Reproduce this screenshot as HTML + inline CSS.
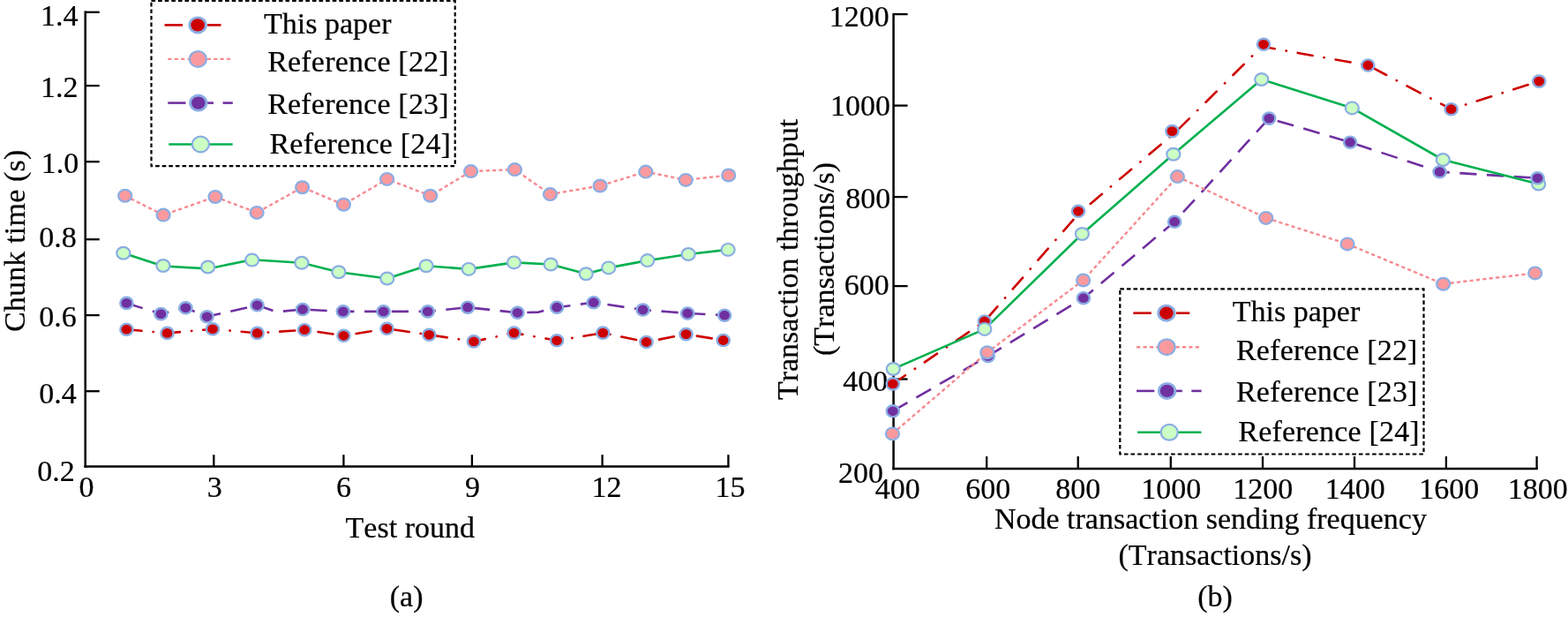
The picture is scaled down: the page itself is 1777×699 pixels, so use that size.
<!DOCTYPE html>
<html lang="en"><head><meta charset="utf-8"><title>Figure</title>
<style>
html,body{margin:0;padding:0;background:#fff;}
body{width:1777px;height:699px;overflow:hidden;}
svg{display:block;}
svg text{stroke:#000;stroke-width:0.22px;font-kerning:none;font-family:"Liberation Serif",serif;font-size:34px;fill:#000;}
</style></head><body>
<svg width="1777" height="699" viewBox="0 0 1777 699">
<rect width="1777" height="699" fill="#fff"/>
<line x1="96.70" y1="12.60" x2="96.70" y2="529.75" stroke="#000" stroke-width="2.5"/>
<line x1="95.45" y1="528.50" x2="826.60" y2="528.50" stroke="#000" stroke-width="2.5"/>
<line x1="96.70" y1="13.80" x2="112.70" y2="13.80" stroke="#000" stroke-width="2.3"/>
<line x1="96.70" y1="97.10" x2="112.70" y2="97.10" stroke="#000" stroke-width="2.3"/>
<line x1="96.70" y1="183.20" x2="112.70" y2="183.20" stroke="#000" stroke-width="2.3"/>
<line x1="96.70" y1="271.20" x2="112.70" y2="271.20" stroke="#000" stroke-width="2.3"/>
<line x1="96.70" y1="357.10" x2="112.70" y2="357.10" stroke="#000" stroke-width="2.3"/>
<line x1="96.70" y1="443.20" x2="112.70" y2="443.20" stroke="#000" stroke-width="2.3"/>
<line x1="242.30" y1="528.50" x2="242.30" y2="515.20" stroke="#000" stroke-width="2.3"/>
<line x1="389.40" y1="528.50" x2="389.40" y2="515.20" stroke="#000" stroke-width="2.3"/>
<line x1="534.90" y1="528.50" x2="534.90" y2="515.20" stroke="#000" stroke-width="2.3"/>
<line x1="682.60" y1="528.50" x2="682.60" y2="515.20" stroke="#000" stroke-width="2.3"/>
<line x1="825.40" y1="528.50" x2="825.40" y2="515.20" stroke="#000" stroke-width="2.3"/>
<text x="46.00" y="28.70">1.4</text>
<text x="46.00" y="109.70">1.2</text>
<text x="46.80" y="196.20">1.0</text>
<text x="44.30" y="280.40">0.8</text>
<text x="44.30" y="370.40">0.6</text>
<text x="44.30" y="457.30">0.4</text>
<text x="42.30" y="545.20">0.2</text>
<text x="89.60" y="563.00">0</text>
<text x="234.65" y="563.00">3</text>
<text x="380.95" y="563.00">6</text>
<text x="526.95" y="563.00">9</text>
<text x="670.45" y="563.00">12</text>
<text x="810.55" y="563.00">15</text>
<text x="391.60" y="609.30">Test round</text>
<text x="441.80" y="686.60">(a)</text>
<text transform="translate(28.20,376.10) rotate(-90)" letter-spacing="0.19">Chunk time (s)</text>
<polyline points="141.7,221.8 185.1,243.6 244.0,223.0 291.1,240.9 342.6,212.2 389.4,231.8 438.6,202.9 487.7,221.8 533.6,194.1 583.4,192.1 623.5,220.1 680.1,210.5 731.8,194.6 777.2,203.9 825.7,198.5" fill="none" stroke="#F78A90" stroke-width="2.4" stroke-linejoin="round" stroke-linecap="butt" stroke-dasharray="4.2 3.2" stroke-dashoffset="0"/>
<ellipse cx="141.7" cy="221.8" rx="7.5" ry="6.9" fill="#FA9A9E" stroke="#8AADE3" stroke-width="2.2"/>
<ellipse cx="185.1" cy="243.6" rx="7.5" ry="6.9" fill="#FA9A9E" stroke="#8AADE3" stroke-width="2.2"/>
<ellipse cx="244.0" cy="223.0" rx="7.5" ry="6.9" fill="#FA9A9E" stroke="#8AADE3" stroke-width="2.2"/>
<ellipse cx="291.1" cy="240.9" rx="7.5" ry="6.9" fill="#FA9A9E" stroke="#8AADE3" stroke-width="2.2"/>
<ellipse cx="342.6" cy="212.2" rx="7.5" ry="6.9" fill="#FA9A9E" stroke="#8AADE3" stroke-width="2.2"/>
<ellipse cx="389.4" cy="231.8" rx="7.5" ry="6.9" fill="#FA9A9E" stroke="#8AADE3" stroke-width="2.2"/>
<ellipse cx="438.6" cy="202.9" rx="7.5" ry="6.9" fill="#FA9A9E" stroke="#8AADE3" stroke-width="2.2"/>
<ellipse cx="487.7" cy="221.8" rx="7.5" ry="6.9" fill="#FA9A9E" stroke="#8AADE3" stroke-width="2.2"/>
<ellipse cx="533.6" cy="194.1" rx="7.5" ry="6.9" fill="#FA9A9E" stroke="#8AADE3" stroke-width="2.2"/>
<ellipse cx="583.4" cy="192.1" rx="7.5" ry="6.9" fill="#FA9A9E" stroke="#8AADE3" stroke-width="2.2"/>
<ellipse cx="623.5" cy="220.1" rx="7.5" ry="6.9" fill="#FA9A9E" stroke="#8AADE3" stroke-width="2.2"/>
<ellipse cx="680.1" cy="210.5" rx="7.5" ry="6.9" fill="#FA9A9E" stroke="#8AADE3" stroke-width="2.2"/>
<ellipse cx="731.8" cy="194.6" rx="7.5" ry="6.9" fill="#FA9A9E" stroke="#8AADE3" stroke-width="2.2"/>
<ellipse cx="777.2" cy="203.9" rx="7.5" ry="6.9" fill="#FA9A9E" stroke="#8AADE3" stroke-width="2.2"/>
<ellipse cx="825.7" cy="198.5" rx="7.5" ry="6.9" fill="#FA9A9E" stroke="#8AADE3" stroke-width="2.2"/>
<polyline points="139.8,286.8 184.9,301.5 235.8,304.4 285.7,294.2 341.9,297.8 383.9,308.2 438.8,315.5 483.1,301.3 531.2,304.9 582.5,297.4 624.2,299.5 664.2,310.3 689.7,303.4 733.8,295.1 780.1,288.0 825.1,282.9" fill="none" stroke="#00B050" stroke-width="2.6" stroke-linejoin="round" stroke-linecap="butt"/>
<ellipse cx="139.8" cy="286.8" rx="7.5" ry="6.9" fill="#CCFFC4" stroke="#8AADE3" stroke-width="2.2"/>
<ellipse cx="184.9" cy="301.0" rx="7.5" ry="6.9" fill="#CCFFC4" stroke="#8AADE3" stroke-width="2.2"/>
<ellipse cx="235.6" cy="302.5" rx="7.5" ry="6.9" fill="#CCFFC4" stroke="#8AADE3" stroke-width="2.2"/>
<ellipse cx="285.7" cy="294.6" rx="7.5" ry="6.9" fill="#CCFFC4" stroke="#8AADE3" stroke-width="2.2"/>
<ellipse cx="341.9" cy="297.8" rx="7.5" ry="6.9" fill="#CCFFC4" stroke="#8AADE3" stroke-width="2.2"/>
<ellipse cx="383.9" cy="308.2" rx="7.5" ry="6.9" fill="#CCFFC4" stroke="#8AADE3" stroke-width="2.2"/>
<ellipse cx="438.8" cy="315.5" rx="7.5" ry="6.9" fill="#CCFFC4" stroke="#8AADE3" stroke-width="2.2"/>
<ellipse cx="483.1" cy="301.3" rx="7.5" ry="6.9" fill="#CCFFC4" stroke="#8AADE3" stroke-width="2.2"/>
<ellipse cx="531.2" cy="304.9" rx="7.5" ry="6.9" fill="#CCFFC4" stroke="#8AADE3" stroke-width="2.2"/>
<ellipse cx="582.5" cy="297.4" rx="7.5" ry="6.9" fill="#CCFFC4" stroke="#8AADE3" stroke-width="2.2"/>
<ellipse cx="624.2" cy="299.5" rx="7.5" ry="6.9" fill="#CCFFC4" stroke="#8AADE3" stroke-width="2.2"/>
<ellipse cx="664.2" cy="310.3" rx="7.5" ry="6.9" fill="#CCFFC4" stroke="#8AADE3" stroke-width="2.2"/>
<ellipse cx="689.7" cy="303.4" rx="7.5" ry="6.9" fill="#CCFFC4" stroke="#8AADE3" stroke-width="2.2"/>
<ellipse cx="733.8" cy="295.1" rx="7.5" ry="6.9" fill="#CCFFC4" stroke="#8AADE3" stroke-width="2.2"/>
<ellipse cx="780.1" cy="288.0" rx="7.5" ry="6.9" fill="#CCFFC4" stroke="#8AADE3" stroke-width="2.2"/>
<ellipse cx="825.1" cy="282.9" rx="7.5" ry="6.9" fill="#CCFFC4" stroke="#8AADE3" stroke-width="2.2"/>
<polyline points="143.4,343.4 182.4,355.6 210.4,348.8 234.6,358.8 291.5,345.8 313.6,353.3 343.0,350.5 388.8,352.9 434.6,352.9 484.8,352.9 530.0,348.2 586.5,354.3 610.4,353.6 631.1,348.2 672.7,342.7 728.6,351.0 779.2,355.0 821.1,357.2" fill="none" stroke="#7030A0" stroke-width="2.6" stroke-linejoin="round" stroke-linecap="butt" stroke-dasharray="19.2 11.6" stroke-dashoffset="0"/>
<ellipse cx="143.4" cy="343.4" rx="7.1" ry="6.6" fill="#7030A0" stroke="#8AADE3" stroke-width="2.4"/>
<ellipse cx="182.4" cy="355.6" rx="7.1" ry="6.6" fill="#7030A0" stroke="#8AADE3" stroke-width="2.4"/>
<ellipse cx="210.4" cy="348.8" rx="7.1" ry="6.6" fill="#7030A0" stroke="#8AADE3" stroke-width="2.4"/>
<ellipse cx="234.6" cy="358.8" rx="7.1" ry="6.6" fill="#7030A0" stroke="#8AADE3" stroke-width="2.4"/>
<ellipse cx="291.5" cy="345.8" rx="7.1" ry="6.6" fill="#7030A0" stroke="#8AADE3" stroke-width="2.4"/>
<ellipse cx="343.0" cy="350.5" rx="7.1" ry="6.6" fill="#7030A0" stroke="#8AADE3" stroke-width="2.4"/>
<ellipse cx="388.8" cy="352.9" rx="7.1" ry="6.6" fill="#7030A0" stroke="#8AADE3" stroke-width="2.4"/>
<ellipse cx="434.6" cy="352.9" rx="7.1" ry="6.6" fill="#7030A0" stroke="#8AADE3" stroke-width="2.4"/>
<ellipse cx="484.8" cy="352.9" rx="7.1" ry="6.6" fill="#7030A0" stroke="#8AADE3" stroke-width="2.4"/>
<ellipse cx="530.0" cy="348.2" rx="7.1" ry="6.6" fill="#7030A0" stroke="#8AADE3" stroke-width="2.4"/>
<ellipse cx="586.5" cy="354.3" rx="7.1" ry="6.6" fill="#7030A0" stroke="#8AADE3" stroke-width="2.4"/>
<ellipse cx="631.1" cy="348.2" rx="7.1" ry="6.6" fill="#7030A0" stroke="#8AADE3" stroke-width="2.4"/>
<ellipse cx="672.7" cy="342.7" rx="7.1" ry="6.6" fill="#7030A0" stroke="#8AADE3" stroke-width="2.4"/>
<ellipse cx="728.6" cy="351.0" rx="7.1" ry="6.6" fill="#7030A0" stroke="#8AADE3" stroke-width="2.4"/>
<ellipse cx="779.2" cy="355.0" rx="7.1" ry="6.6" fill="#7030A0" stroke="#8AADE3" stroke-width="2.4"/>
<ellipse cx="821.1" cy="357.2" rx="7.1" ry="6.6" fill="#7030A0" stroke="#8AADE3" stroke-width="2.4"/>
<polyline points="143.4,373.2 189.5,377.4 241.0,372.8 291.6,377.4 345.1,373.7 389.5,380.3 438.5,372.3 486.3,379.3 536.9,386.9 582.5,377.1 631.1,385.8 683.3,377.1 732.5,387.5 777.5,378.6 819.7,385.5" fill="none" stroke="#CC0000" stroke-width="2.6" stroke-linejoin="round" stroke-linecap="round" stroke-dasharray="17.2 13.0 0.4 13.0" stroke-dashoffset="0"/>
<ellipse cx="143.4" cy="373.2" rx="7.1" ry="6.6" fill="#CC0000" stroke="#8AADE3" stroke-width="2.4"/>
<ellipse cx="189.5" cy="377.4" rx="7.1" ry="6.6" fill="#CC0000" stroke="#8AADE3" stroke-width="2.4"/>
<ellipse cx="241.0" cy="372.8" rx="7.1" ry="6.6" fill="#CC0000" stroke="#8AADE3" stroke-width="2.4"/>
<ellipse cx="291.6" cy="377.4" rx="7.1" ry="6.6" fill="#CC0000" stroke="#8AADE3" stroke-width="2.4"/>
<ellipse cx="345.1" cy="373.7" rx="7.1" ry="6.6" fill="#CC0000" stroke="#8AADE3" stroke-width="2.4"/>
<ellipse cx="389.5" cy="380.3" rx="7.1" ry="6.6" fill="#CC0000" stroke="#8AADE3" stroke-width="2.4"/>
<ellipse cx="438.5" cy="372.3" rx="7.1" ry="6.6" fill="#CC0000" stroke="#8AADE3" stroke-width="2.4"/>
<ellipse cx="486.3" cy="379.3" rx="7.1" ry="6.6" fill="#CC0000" stroke="#8AADE3" stroke-width="2.4"/>
<ellipse cx="536.9" cy="386.9" rx="7.1" ry="6.6" fill="#CC0000" stroke="#8AADE3" stroke-width="2.4"/>
<ellipse cx="582.5" cy="377.1" rx="7.1" ry="6.6" fill="#CC0000" stroke="#8AADE3" stroke-width="2.4"/>
<ellipse cx="631.1" cy="385.8" rx="7.1" ry="6.6" fill="#CC0000" stroke="#8AADE3" stroke-width="2.4"/>
<ellipse cx="683.3" cy="377.1" rx="7.1" ry="6.6" fill="#CC0000" stroke="#8AADE3" stroke-width="2.4"/>
<ellipse cx="732.5" cy="387.5" rx="7.1" ry="6.6" fill="#CC0000" stroke="#8AADE3" stroke-width="2.4"/>
<ellipse cx="777.5" cy="378.6" rx="7.1" ry="6.6" fill="#CC0000" stroke="#8AADE3" stroke-width="2.4"/>
<ellipse cx="819.7" cy="385.5" rx="7.1" ry="6.6" fill="#CC0000" stroke="#8AADE3" stroke-width="2.4"/>
<rect x="171.5" y="1.0" width="344.2" height="187.2" fill="#fff" stroke="#000" stroke-width="2.2" stroke-dasharray="4.6 3"/>
<line x1="186.50" y1="28.40" x2="207.00" y2="28.40" stroke="#CC0000" stroke-width="2.6"/>
<line x1="235.00" y1="28.40" x2="250.50" y2="28.40" stroke="#CC0000" stroke-width="2.6"/>
<ellipse cx="224.1" cy="28.4" rx="9.2" ry="8.6" fill="#CC0000" stroke="#8AADE3" stroke-width="2.8"/>
<text x="299.00" y="37.60">This paper</text>
<polyline points="190.3,66.9 263.8,66.9" fill="none" stroke="#F78A90" stroke-width="2.4" stroke-linejoin="round" stroke-linecap="butt" stroke-dasharray="4.2 3.2" stroke-dashoffset="0"/>
<ellipse cx="224.4" cy="66.9" rx="9.5" ry="8.9" fill="#FA9A9E" stroke="#8AADE3" stroke-width="2.2"/>
<text x="303.20" y="81.30" letter-spacing="0.19">Reference [22]</text>
<line x1="190.30" y1="116.60" x2="210.50" y2="116.60" stroke="#7030A0" stroke-width="2.6"/>
<line x1="233.50" y1="116.60" x2="242.00" y2="116.60" stroke="#7030A0" stroke-width="2.6"/>
<line x1="252.50" y1="116.60" x2="263.80" y2="116.60" stroke="#7030A0" stroke-width="2.6"/>
<ellipse cx="224.8" cy="116.6" rx="9.2" ry="8.6" fill="#7030A0" stroke="#8AADE3" stroke-width="2.8"/>
<text x="303.20" y="128.70" letter-spacing="0.19">Reference [23]</text>
<line x1="191.30" y1="163.50" x2="263.70" y2="163.50" stroke="#00B050" stroke-width="2.6"/>
<ellipse cx="227.4" cy="163.5" rx="9.5" ry="8.9" fill="#CCFFC4" stroke="#8AADE3" stroke-width="2.2"/>
<text x="305.50" y="174.00" letter-spacing="0.19">Reference [24]</text>
<line x1="1012.60" y1="14.90" x2="1012.60" y2="532.25" stroke="#000" stroke-width="2.5"/>
<line x1="1011.35" y1="531.00" x2="1742.80" y2="531.00" stroke="#000" stroke-width="2.5"/>
<line x1="1012.60" y1="16.10" x2="1028.60" y2="16.10" stroke="#000" stroke-width="2.3"/>
<line x1="1012.60" y1="119.60" x2="1028.60" y2="119.60" stroke="#000" stroke-width="2.3"/>
<line x1="1012.60" y1="223.10" x2="1028.60" y2="223.10" stroke="#000" stroke-width="2.3"/>
<line x1="1012.60" y1="324.10" x2="1028.60" y2="324.10" stroke="#000" stroke-width="2.3"/>
<line x1="1012.60" y1="429.50" x2="1028.60" y2="429.50" stroke="#000" stroke-width="2.3"/>
<line x1="1118.20" y1="531.00" x2="1118.20" y2="517.00" stroke="#000" stroke-width="2.3"/>
<line x1="1221.70" y1="531.00" x2="1221.70" y2="517.00" stroke="#000" stroke-width="2.3"/>
<line x1="1326.80" y1="531.00" x2="1326.80" y2="517.00" stroke="#000" stroke-width="2.3"/>
<line x1="1431.00" y1="531.00" x2="1431.00" y2="517.00" stroke="#000" stroke-width="2.3"/>
<line x1="1535.00" y1="531.00" x2="1535.00" y2="517.00" stroke="#000" stroke-width="2.3"/>
<line x1="1638.90" y1="531.00" x2="1638.90" y2="517.00" stroke="#000" stroke-width="2.3"/>
<line x1="1741.60" y1="531.00" x2="1741.60" y2="517.00" stroke="#000" stroke-width="2.3"/>
<text x="939.70" y="30.00">1200</text>
<text x="940.90" y="131.20">1000</text>
<text x="958.30" y="236.30">800</text>
<text x="956.80" y="334.00">600</text>
<text x="955.30" y="442.50">400</text>
<text x="949.90" y="547.20">200</text>
<text x="991.80" y="565.30">400</text>
<text x="1094.30" y="565.30">600</text>
<text x="1196.20" y="565.30">800</text>
<text x="1293.15" y="565.30">1000</text>
<text x="1397.35" y="565.30">1200</text>
<text x="1501.75" y="565.30">1400</text>
<text x="1608.15" y="565.30">1600</text>
<text x="1708.65" y="565.30">1800</text>
<text x="1126.90" y="598.50">Node transaction sending frequency</text>
<text x="1267.50" y="639.70">(Transactions/s)</text>
<text x="1357.20" y="686.60">(b)</text>
<text transform="translate(904.20,453.10) rotate(-90)">Transaction throughput</text>
<text transform="translate(944.50,403.00) rotate(-90)">(Transactions/s)</text>
<polyline points="1011.8,434.9 1115.8,364.0 1222.5,242.0 1332.0,150.0 1430.0,52.7 1550.3,74.0 1644.6,123.7 1744.2,92.1" fill="none" stroke="#CC0000" stroke-width="2.6" stroke-linejoin="round" stroke-linecap="round" stroke-dasharray="17.2 13.0 0.4 13.0" stroke-dashoffset="0"/>
<polyline points="1011.8,465.8 1119.7,403.4 1227.9,337.7 1331.1,251.2 1438.2,134.1 1530.1,161.2 1631.6,194.7 1742.5,201.8" fill="none" stroke="#7030A0" stroke-width="2.6" stroke-linejoin="round" stroke-linecap="butt" stroke-dasharray="19.2 11.6" stroke-dashoffset="0"/>
<polyline points="1011.4,491.4 1118.8,399.3 1227.6,317.5 1334.4,200.1 1434.7,246.9 1527.0,276.4 1635.6,321.7 1739.7,309.4" fill="none" stroke="#F78A90" stroke-width="2.4" stroke-linejoin="round" stroke-linecap="butt" stroke-dasharray="4.2 3.2" stroke-dashoffset="0"/>
<polyline points="1012.3,418.0 1115.8,372.9 1226.4,265.0 1329.8,174.8 1429.7,90.0 1532.3,122.4 1635.3,181.0 1743.7,208.5" fill="none" stroke="#00B050" stroke-width="2.6" stroke-linejoin="round" stroke-linecap="butt"/>
<ellipse cx="1011.8" cy="434.9" rx="7.1" ry="6.6" fill="#CC0000" stroke="#8AADE3" stroke-width="2.4"/>
<ellipse cx="1115.8" cy="364.0" rx="7.1" ry="6.6" fill="#CC0000" stroke="#8AADE3" stroke-width="2.4"/>
<ellipse cx="1222.0" cy="239.3" rx="7.1" ry="6.6" fill="#CC0000" stroke="#8AADE3" stroke-width="2.4"/>
<ellipse cx="1328.4" cy="148.6" rx="7.1" ry="6.6" fill="#CC0000" stroke="#8AADE3" stroke-width="2.4"/>
<ellipse cx="1432.0" cy="50.3" rx="7.1" ry="6.6" fill="#CC0000" stroke="#8AADE3" stroke-width="2.4"/>
<ellipse cx="1550.3" cy="74.0" rx="7.1" ry="6.6" fill="#CC0000" stroke="#8AADE3" stroke-width="2.4"/>
<ellipse cx="1644.6" cy="123.7" rx="7.1" ry="6.6" fill="#CC0000" stroke="#8AADE3" stroke-width="2.4"/>
<ellipse cx="1744.2" cy="92.1" rx="7.1" ry="6.6" fill="#CC0000" stroke="#8AADE3" stroke-width="2.4"/>
<ellipse cx="1012.3" cy="418.0" rx="7.5" ry="6.9" fill="#CCFFC4" stroke="#8AADE3" stroke-width="2.2"/>
<ellipse cx="1115.8" cy="372.9" rx="7.5" ry="6.9" fill="#CCFFC4" stroke="#8AADE3" stroke-width="2.2"/>
<ellipse cx="1226.4" cy="265.0" rx="7.5" ry="6.9" fill="#CCFFC4" stroke="#8AADE3" stroke-width="2.2"/>
<ellipse cx="1329.8" cy="174.8" rx="7.5" ry="6.9" fill="#CCFFC4" stroke="#8AADE3" stroke-width="2.2"/>
<ellipse cx="1429.7" cy="90.0" rx="7.5" ry="6.9" fill="#CCFFC4" stroke="#8AADE3" stroke-width="2.2"/>
<ellipse cx="1532.3" cy="122.4" rx="7.5" ry="6.9" fill="#CCFFC4" stroke="#8AADE3" stroke-width="2.2"/>
<ellipse cx="1635.3" cy="181.0" rx="7.5" ry="6.9" fill="#CCFFC4" stroke="#8AADE3" stroke-width="2.2"/>
<ellipse cx="1743.7" cy="208.5" rx="7.5" ry="6.9" fill="#CCFFC4" stroke="#8AADE3" stroke-width="2.2"/>
<ellipse cx="1011.8" cy="465.8" rx="7.1" ry="6.6" fill="#7030A0" stroke="#8AADE3" stroke-width="2.4"/>
<ellipse cx="1119.7" cy="403.4" rx="7.1" ry="6.6" fill="#7030A0" stroke="#8AADE3" stroke-width="2.4"/>
<ellipse cx="1227.9" cy="337.7" rx="7.1" ry="6.6" fill="#7030A0" stroke="#8AADE3" stroke-width="2.4"/>
<ellipse cx="1331.1" cy="251.2" rx="7.1" ry="6.6" fill="#7030A0" stroke="#8AADE3" stroke-width="2.4"/>
<ellipse cx="1438.2" cy="134.1" rx="7.1" ry="6.6" fill="#7030A0" stroke="#8AADE3" stroke-width="2.4"/>
<ellipse cx="1530.1" cy="161.2" rx="7.1" ry="6.6" fill="#7030A0" stroke="#8AADE3" stroke-width="2.4"/>
<ellipse cx="1631.6" cy="194.7" rx="7.1" ry="6.6" fill="#7030A0" stroke="#8AADE3" stroke-width="2.4"/>
<ellipse cx="1742.5" cy="201.8" rx="7.1" ry="6.6" fill="#7030A0" stroke="#8AADE3" stroke-width="2.4"/>
<ellipse cx="1011.4" cy="491.4" rx="7.5" ry="6.9" fill="#FA9A9E" stroke="#8AADE3" stroke-width="2.2"/>
<ellipse cx="1118.8" cy="399.3" rx="7.5" ry="6.9" fill="#FA9A9E" stroke="#8AADE3" stroke-width="2.2"/>
<ellipse cx="1227.6" cy="317.5" rx="7.5" ry="6.9" fill="#FA9A9E" stroke="#8AADE3" stroke-width="2.2"/>
<ellipse cx="1334.4" cy="200.1" rx="7.5" ry="6.9" fill="#FA9A9E" stroke="#8AADE3" stroke-width="2.2"/>
<ellipse cx="1434.7" cy="246.9" rx="7.5" ry="6.9" fill="#FA9A9E" stroke="#8AADE3" stroke-width="2.2"/>
<ellipse cx="1527.0" cy="276.4" rx="7.5" ry="6.9" fill="#FA9A9E" stroke="#8AADE3" stroke-width="2.2"/>
<ellipse cx="1635.6" cy="321.7" rx="7.5" ry="6.9" fill="#FA9A9E" stroke="#8AADE3" stroke-width="2.2"/>
<ellipse cx="1739.7" cy="309.4" rx="7.5" ry="6.9" fill="#FA9A9E" stroke="#8AADE3" stroke-width="2.2"/>
<rect x="1269.3" y="327.3" width="344.2" height="187.2" fill="#fff" stroke="#000" stroke-width="2.2" stroke-dasharray="4.6 3"/>
<line x1="1284.30" y1="354.70" x2="1304.80" y2="354.70" stroke="#CC0000" stroke-width="2.6"/>
<line x1="1332.80" y1="354.70" x2="1348.30" y2="354.70" stroke="#CC0000" stroke-width="2.6"/>
<ellipse cx="1321.9" cy="354.7" rx="9.2" ry="8.6" fill="#CC0000" stroke="#8AADE3" stroke-width="2.8"/>
<text x="1396.80" y="363.90">This paper</text>
<polyline points="1288.1,393.2 1361.6,393.2" fill="none" stroke="#F78A90" stroke-width="2.4" stroke-linejoin="round" stroke-linecap="butt" stroke-dasharray="4.2 3.2" stroke-dashoffset="0"/>
<ellipse cx="1322.2" cy="393.2" rx="9.5" ry="8.9" fill="#FA9A9E" stroke="#8AADE3" stroke-width="2.2"/>
<text x="1401.00" y="407.60" letter-spacing="0.19">Reference [22]</text>
<line x1="1288.10" y1="442.90" x2="1308.30" y2="442.90" stroke="#7030A0" stroke-width="2.6"/>
<line x1="1331.30" y1="442.90" x2="1339.80" y2="442.90" stroke="#7030A0" stroke-width="2.6"/>
<line x1="1350.30" y1="442.90" x2="1361.60" y2="442.90" stroke="#7030A0" stroke-width="2.6"/>
<ellipse cx="1322.6" cy="442.9" rx="9.2" ry="8.6" fill="#7030A0" stroke="#8AADE3" stroke-width="2.8"/>
<text x="1401.00" y="455.00" letter-spacing="0.19">Reference [23]</text>
<line x1="1289.10" y1="489.80" x2="1361.50" y2="489.80" stroke="#00B050" stroke-width="2.6"/>
<ellipse cx="1325.2" cy="489.8" rx="9.5" ry="8.9" fill="#CCFFC4" stroke="#8AADE3" stroke-width="2.2"/>
<text x="1403.30" y="500.30" letter-spacing="0.19">Reference [24]</text>
</svg>
</body></html>
